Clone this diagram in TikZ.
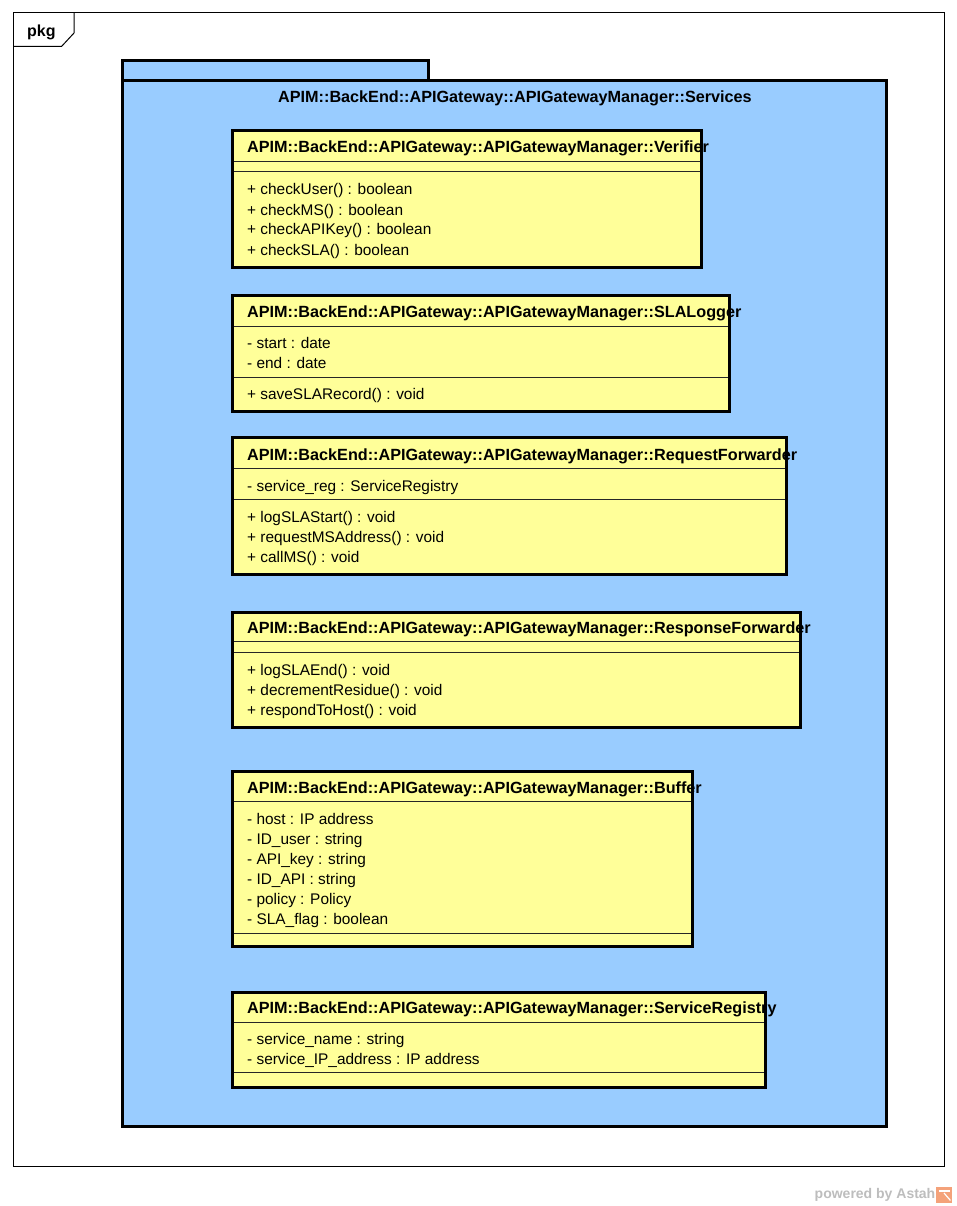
\documentclass[tikz,border=0pt]{standalone}
\usepackage{fontspec}
\setmainfont{Liberation Sans}
\definecolor{pkgblue}{HTML}{99CCFF}
\definecolor{classyellow}{HTML}{FFFF99}
\definecolor{wmgray}{HTML}{BDBDBD}
\definecolor{logoorange}{HTML}{F4A27A}
\tikzset{
  thinframe/.style={draw=black, line width=1pt},
  pkgshape/.style={draw=black, line width=3pt, fill=pkgblue},
  classfill/.style={fill=classyellow, draw=none, inner sep=0pt, outer sep=0pt, anchor=north west},
  classborder/.style={draw=black, line width=3pt},
  sepline/.style={draw=black!85, line width=1pt},
  nametext/.style={font=\bfseries\fontsize{16.2}{20}\selectfont, anchor=base west, inner sep=0pt},
  membertext/.style={font=\fontsize{15.4}{20}\selectfont, anchor=base west, inner sep=0pt},
}
\begin{document}
\begin{tikzpicture}[x=1pt,y=-1pt]
\useasboundingbox[fill=white] (0,0) rectangle (957,1206);

% outer frame
\draw[thinframe] (13,13) rectangle (944,1166);
\draw[thinframe] (74,13) -- (74,33) -- (61.5,46.5) -- (13,46.5);
\node[font=\bfseries\fontsize{16}{20}\selectfont, anchor=base west, inner sep=0pt] (pkglabel) at (27,37) {pkg};

% package
\draw[pkgshape] (122.5,61) rectangle (428,80.5);
\draw[pkgshape] (122.5,80.5) rectangle (886.5,1126);
\node[font=\bfseries\fontsize{16.2}{20}\selectfont, anchor=base, inner sep=0pt] (pkgtitle) at (515,103) {APIM::BackEnd::APIGateway::APIGatewayManager::Services};

% ---------- Verifier
\node[classfill, minimum width=469.5pt, minimum height=136pt] (verifier) at (232,131) {};
\draw[sepline] (verifier.west |- 0,162) -- (verifier.east |- 0,162);
\draw[sepline] (verifier.west |- 0,172) -- (verifier.east |- 0,172);
\draw[classborder] (verifier.north west) rectangle (verifier.south east);
\node[nametext] (verifiername) at (247,153) {APIM::BackEnd::APIGateway::APIGatewayManager::Verifier};
\node[membertext] (v1) at (247,195) {+ checkUser() : boolean};
\node[membertext] (v2) at (247,215) {+ checkMS() : boolean};
\node[membertext] (v3) at (247,235) {+ checkAPIKey() : boolean};
\node[membertext] (v4) at (247,255) {+ checkSLA() : boolean};

% ---------- SLALogger
\node[classfill, minimum width=497.5pt, minimum height=116pt] (slalogger) at (232,295.5) {};
\draw[sepline] (slalogger.west |- 0,326.5) -- (slalogger.east |- 0,326.5);
\draw[sepline] (slalogger.west |- 0,377) -- (slalogger.east |- 0,377);
\draw[classborder] (slalogger.north west) rectangle (slalogger.south east);
\node[nametext] (slaname) at (247,317) {APIM::BackEnd::APIGateway::APIGatewayManager::SLALogger};
\node[membertext] (s1) at (247,348.5) {- start : date};
\node[membertext] (s2) at (247,368.5) {- end : date};
\node[membertext] (s3) at (247,399.5) {+ saveSLARecord() : void};

% ---------- RequestForwarder
\node[classfill, minimum width=554pt, minimum height=137pt] (reqfwd) at (232,437) {};
\draw[sepline] (reqfwd.west |- 0,468.5) -- (reqfwd.east |- 0,468.5);
\draw[sepline] (reqfwd.west |- 0,499.5) -- (reqfwd.east |- 0,499.5);
\draw[classborder] (reqfwd.north west) rectangle (reqfwd.south east);
\node[nametext] (reqname) at (247,460) {APIM::BackEnd::APIGateway::APIGatewayManager::RequestForwarder};
\node[membertext] (r1) at (247,491.5) {- service\_reg : ServiceRegistry};
\node[membertext] (r2) at (247,522) {+ logSLAStart() : void};
\node[membertext] (r3) at (247,542) {+ requestMSAddress() : void};
\node[membertext] (r4) at (247,562) {+ callMS() : void};

% ---------- ResponseForwarder
\node[classfill, minimum width=568.5pt, minimum height=114.5pt] (resfwd) at (232,612.5) {};
\draw[sepline] (resfwd.west |- 0,641.5) -- (resfwd.east |- 0,641.5);
\draw[sepline] (resfwd.west |- 0,652.5) -- (resfwd.east |- 0,652.5);
\draw[classborder] (resfwd.north west) rectangle (resfwd.south east);
\node[nametext] (resname) at (247,633.5) {APIM::BackEnd::APIGateway::APIGatewayManager::ResponseForwarder};
\node[membertext] (f1) at (247,675) {+ logSLAEnd() : void};
\node[membertext] (f2) at (247,695) {+ decrementResidue() : void};
\node[membertext] (f3) at (247,715) {+ respondToHost() : void};

% ---------- Buffer
\node[classfill, minimum width=460.5pt, minimum height=175pt] (buffer) at (232,771.5) {};
\draw[sepline] (buffer.west |- 0,801.5) -- (buffer.east |- 0,801.5);
\draw[sepline] (buffer.west |- 0,933) -- (buffer.east |- 0,933);
\draw[classborder] (buffer.north west) rectangle (buffer.south east);
\node[nametext] (bufname) at (247,793.5) {APIM::BackEnd::APIGateway::APIGatewayManager::Buffer};
\node[membertext] (b1) at (247,824) {- host : IP address};
\node[membertext] (b2) at (247,844) {- ID\_user : string};
\node[membertext] (b3) at (247,864) {- API\_key : string};
\node[membertext] (b4) at (247,884) {- ID\_API : string};
\node[membertext] (b5) at (247,904) {- policy : Policy};
\node[membertext] (b6) at (247,924.5) {- SLA\_flag : boolean};

% ---------- ServiceRegistry
\node[classfill, minimum width=533.5pt, minimum height=94.5pt] (svcreg) at (232,992.5) {};
\draw[sepline] (svcreg.west |- 0,1022) -- (svcreg.east |- 0,1022);
\draw[sepline] (svcreg.west |- 0,1072.5) -- (svcreg.east |- 0,1072.5);
\draw[classborder] (svcreg.north west) rectangle (svcreg.south east);
\node[nametext] (svcname) at (247,1013) {APIM::BackEnd::APIGateway::APIGatewayManager::ServiceRegistry};
\node[membertext] (g1) at (247,1044) {- service\_name : string};
\node[membertext] (g2) at (247,1064) {- service\_IP\_address : IP address};

% watermark
\node[font=\bfseries\fontsize{14}{14}\selectfont, text=wmgray, anchor=base east, inner sep=0pt] (wm) at (935.5,1198) {powered by Astah};
\node[fill=logoorange, draw=none, minimum width=16pt, minimum height=16pt, inner sep=0pt, anchor=north west] (logo) at (936,1187) {};
\draw[white, line width=1.2pt] ([xshift=3pt,yshift=-4pt]logo.north west) -- ([xshift=-2pt,yshift=-4pt]logo.north east);
\draw[white, line width=1.2pt] ([xshift=8pt,yshift=-6pt]logo.north west) -- ([xshift=-2pt,yshift=3pt]logo.south east);
\end{tikzpicture}
\end{document}
